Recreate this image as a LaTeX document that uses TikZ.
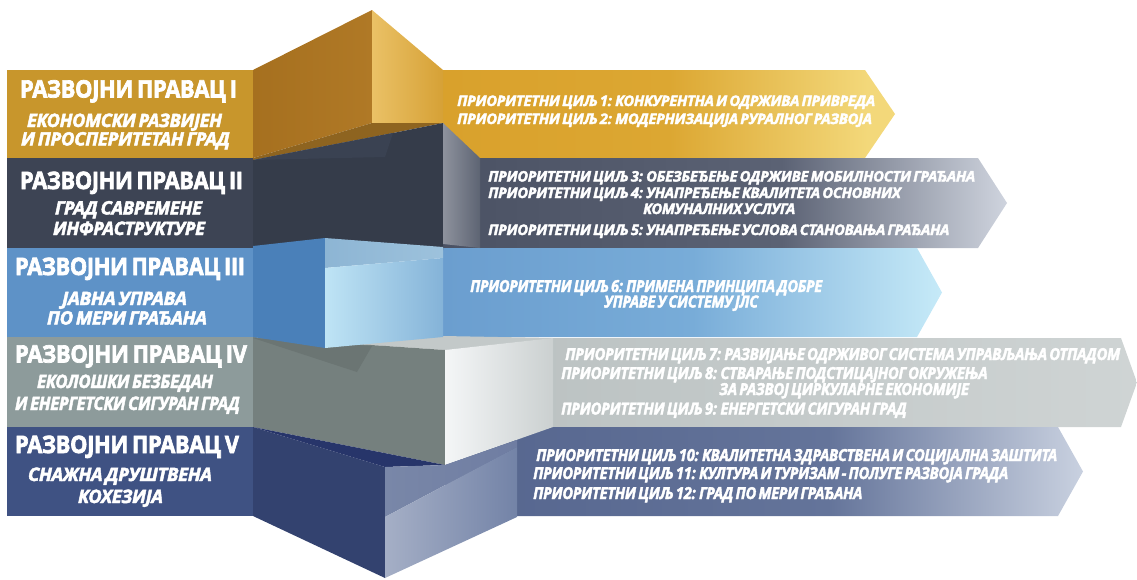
\documentclass[tikz,border=0pt]{standalone}
\usepackage{fontspec}
\setmainfont{Open Sans}
\newfontfamily\heavyfam[FakeBold=3,LetterSpace=-1.5,WordSpace=0.7]{Open Sans}
\newfontfamily\medfam[FakeBold=2.5,LetterSpace=-2,WordSpace=0.6]{Open Sans}
\usepackage{graphicx}
% colours
\definecolor{gLab}{HTML}{C8962C}
\definecolor{gFrontL}{HTML}{A6701F}
\definecolor{gFrontR}{HTML}{B07926}
\definecolor{gSideL}{HTML}{EAC166}
\definecolor{gSideR}{HTML}{D6A136}
\definecolor{gWedge}{HTML}{8E6420}
\definecolor{gAl}{HTML}{D9A12C}
\definecolor{gAm}{HTML}{DCA732}
\definecolor{gAr}{HTML}{F3D87A}
\definecolor{dLab}{HTML}{3D4454}
\definecolor{dFront}{HTML}{353C4A}
\definecolor{dTop}{HTML}{3A4252}
\definecolor{dSideL}{HTML}{8E929D}
\definecolor{dSideR}{HTML}{5D6473}
\definecolor{dAl}{HTML}{4B5264}
\definecolor{dAm}{HTML}{5B6274}
\definecolor{dAr}{HTML}{CFD4DE}
\definecolor{bLab}{HTML}{5E92C7}
\definecolor{bFront}{HTML}{4A80B9}
\definecolor{bTopL}{HTML}{8DB5D4}
\definecolor{bTopR}{HTML}{9DC2DC}
\definecolor{bCyL}{HTML}{BFE4F5}
\definecolor{bCyR}{HTML}{84B3D8}
\definecolor{bAl}{HTML}{6B9ECF}
\definecolor{bAm}{HTML}{78ACD8}
\definecolor{bAr}{HTML}{C6EAF8}
\definecolor{yLab}{HTML}{8D9B9B}
\definecolor{yFront}{HTML}{75807E}
\definecolor{yShadow}{HTML}{6B7573}
\definecolor{yTop}{HTML}{C3C9C9}
\definecolor{yWL}{HTML}{F4F6F7}
\definecolor{yWR}{HTML}{CBD0D0}
\definecolor{yAl}{HTML}{B9C0C0}
\definecolor{yAr}{HTML}{CFD4D4}
\definecolor{nLab}{HTML}{3F5283}
\definecolor{nFront}{HTML}{33426F}
\definecolor{nTop}{HTML}{27356A}
\definecolor{nUL}{HTML}{7987A8}
\definecolor{nUR}{HTML}{6F7DA2}
\definecolor{nLL}{HTML}{A5AFC6}
\definecolor{nLR}{HTML}{7383A7}
\definecolor{nAl}{HTML}{55658E}
\definecolor{nAm}{HTML}{64749A}
\definecolor{nAr}{HTML}{C9D1E0}
\pgfdeclarehorizontalshading{goldarr}{100bp}{color(0bp)=(gAl); color(25bp)=(gAl); color(50bp)=(gAm); color(72bp)=(gAr); color(100bp)=(gAr)}
\pgfdeclarehorizontalshading{darkarr}{100bp}{color(0bp)=(dAl); color(25bp)=(dAl); color(55bp)=(dAm); color(75bp)=(dAr); color(100bp)=(dAr)}
\pgfdeclarehorizontalshading{bluearr}{100bp}{color(0bp)=(bAl); color(25bp)=(bAl); color(50bp)=(bAm); color(75bp)=(bAr); color(100bp)=(bAr)}
\pgfdeclarehorizontalshading{greyarr}{100bp}{color(0bp)=(yAl); color(25bp)=(yAl); color(75bp)=(yAr); color(100bp)=(yAr)}
\pgfdeclarehorizontalshading{navyarr}{100bp}{color(0bp)=(nAl); color(25bp)=(nAl); color(55bp)=(nAm); color(75bp)=(nAr); color(100bp)=(nAr)}
% fonts
\newcommand\ttlfont{\heavyfam\bfseries\fontsize{24}{24}\selectfont}
\newcommand\subfont{\medfam\bfseries\itshape\fontsize{18.5}{18.5}\selectfont}
\newcommand\prA{\medfam\bfseries\itshape\fontsize{14.5}{14.5}\selectfont}
\newcommand\prB{\medfam\bfseries\itshape\fontsize{16.5}{16.5}\selectfont}
\newcommand\fitw[2]{\resizebox{#1pt}{\height}{#2}}
\newlength\calw
\newcommand\calib[3]{\settowidth\calw{#2}\pgfmathsetmacro#1{#3/\calw}}
\AtBeginDocument{%
  \calib{\fG}{\prA ПРИОРИТЕТНИ ЦИЉ 1: КОНКУРЕНТНА И ОДРЖИВА ПРИВРЕДА}{418}%
  \calib{\fD}{\prA ПРИОРИТЕТНИ ЦИЉ 3: ОБЕЗБЕЂЕЊЕ ОДРЖИВЕ МОБИЛНОСТИ ГРАЂАНА}{487}%
  \calib{\fB}{\prB ПРИОРИТЕТНИ ЦИЉ 6: ПРИМЕНА ПРИНЦИПА ДОБРЕ}{352}%
  \calib{\fY}{\prB ПРИОРИТЕТНИ ЦИЉ 7: РАЗВИЈАЊЕ ОДРЖИВОГ СИСТЕМА УПРАВЉАЊА ОТПАДОМ}{555}%
  \calib{\fN}{\prB ПРИОРИТЕТНИ ЦИЉ 10: КВАЛИТЕТНА ЗДРАВСТВЕНА И СОЦИЈАЛНА ЗАШТИТА}{521}%
  \normalfont\normalsize
}
\newcommand\sG[1]{\scalebox{\fG}[1]{\prA #1}}
\newcommand\sD[1]{\scalebox{\fD}[1]{\prA #1}}
\newcommand\sB[1]{\scalebox{\fB}[1]{\prB #1}}
\newcommand\sY[1]{\scalebox{\fY}[1]{\prB #1}}
\newcommand\sN[1]{\scalebox{\fN}[1]{\prB #1}}
\tikzset{
  lbl/.style={text=white, inner sep=0pt, anchor=base},
  prio/.style={text=white, inner sep=0pt, anchor=base west},
}
\begin{document}
\begin{tikzpicture}[x=1pt,y=-1pt]
\useasboundingbox (0,0) rectangle (1137,579);

% ---------- arrows (back) ----------
\shade[shading=goldarr] (443,70) -- (865,70) -- (895,114) -- (865,158) -- (443,158) -- cycle;
\shade[shading=darkarr] (443,158) -- (978,158) -- (1007,203) -- (978,248) -- (443,248) -- cycle;
\shade[shading=bluearr] (443,248) -- (917,248) -- (942,292.5) -- (917,337) -- (443,337) -- cycle;
\shade[shading=greyarr] (445,338) -- (1121,338) -- (1137,382.5) -- (1121,427) -- (445,427) -- cycle;
\shade[shading=navyarr] (445,427) -- (1058,427) -- (1083,471.5) -- (1058,516) -- (445,516) -- cycle;

% ---------- gold block ----------
\shade[left color=gFrontL, right color=gFrontR] (253,70) -- (372,10) -- (372,123) -- (253,158) -- cycle;
\shade[left color=gSideL, right color=gSideR] (372,10) -- (443,70) -- (443,123) -- (372,123) -- cycle;
\fill[gWedge] (253,158) -- (372,123) -- (443,123) -- (393,133) -- (253,160) -- cycle;

% ---------- dark block ----------
\fill[dFront] (253,160) -- (393,133) -- (443,123) -- (443,250) -- (253,250) -- cycle;
\fill[dTop] (253,160) -- (393,133) -- (385,157) -- cycle;
\shade[left color=dSideL, right color=dSideR] (443,123) -- (480,158) -- (480,248) -- (443,244) -- cycle;

% ---------- grey block ----------
\fill[yTop] (253,337) -- (443,336) -- (553,338) -- (445,350) -- cycle;
\fill[yFront] (253,337) -- (445,350) -- (445,465) -- (253,427) -- cycle;
\fill[yShadow] (253,338) -- (372,346) -- (357,372) -- cycle;
\shade[left color=yWL, right color=yWR] (445,350) -- (553,338) -- (553,427) -- (445,465) -- cycle;

% ---------- blue block ----------
\fill[bFront] (253,246) -- (325,238) -- (325,348) -- (253,337) -- cycle;
\shade[left color=bTopL, right color=bTopR] (325,238) -- (443,247) -- (443,258) -- (325,268) -- cycle;
\shade[left color=bCyL, right color=bCyR] (325,268) -- (443,258) -- (443,337) -- (325,348) -- cycle;

% ---------- navy block ----------
\fill[nFront] (253,427) -- (385,467) -- (385,578) -- (253,516) -- cycle;
\fill[nTop] (253,427) -- (445,465) -- (385,467) -- cycle;
\shade[left color=nUL, right color=nUR] (385,467) -- (445,465) -- (517,440) -- (517,447) -- (385,517) -- cycle;
\shade[left color=nLL, right color=nLR] (385,517) -- (517,447) -- (517,517) -- (385,578) -- cycle;

% ---------- label panels ----------
\fill[gLab] (7,70) rectangle (253,158);
\fill[dLab] (7,158) rectangle (253,248);
\fill[bLab] (7,248) rectangle (253,337);
\fill[yLab] (7,337) rectangle (253,427);
\fill[nLab] (7,427) rectangle (253,516);

% ---------- label texts ----------
\node[lbl] (t1)  at (128.5,97.5) {\fitw{217}{\ttlfont РАЗВОЈНИ ПРАВАЦ I}};
\node[lbl] (s1a) at (124.5,127)  {\fitw{195}{\subfont ЕКОНОМСКИ РАЗВИЈЕН}};
\node[lbl] (s1b) at (125.5,145.5){\fitw{209}{\subfont И ПРОСПЕРИТЕТАН ГРАД}};
\node[lbl] (t2)  at (131.5,189)  {\fitw{223}{\ttlfont РАЗВОЈНИ ПРАВАЦ II}};
\node[lbl] (s2a) at (128.5,214.5){\fitw{147}{\subfont ГРАД САВРЕМЕНЕ}};
\node[lbl] (s2b) at (129,235)    {\fitw{152}{\subfont ИНФРАСТРУКТУРЕ}};
\node[lbl] (t3)  at (130,275)    {\fitw{230}{\ttlfont РАЗВОЈНИ ПРАВАЦ III}};
\node[lbl] (s3a) at (124.5,305)  {\fitw{125}{\subfont ЈАВНА УПРАВА}};
\node[lbl] (s3b) at (127,324.5)  {\fitw{160}{\subfont ПО МЕРИ ГРАЂАНА}};
\node[lbl] (t4)  at (131,362.5)  {\fitw{232}{\ttlfont РАЗВОЈНИ ПРАВАЦ IV}};
\node[lbl] (s4a) at (125,388)    {\fitw{176}{\subfont ЕКОЛОШКИ БЕЗБЕДАН}};
\node[lbl] (s4b) at (127.5,410)  {\fitw{225}{\subfont И ЕНЕРГЕТСКИ СИГУРАН ГРАД}};
\node[lbl] (t5)  at (127,453)    {\fitw{224}{\ttlfont РАЗВОЈНИ ПРАВАЦ V}};
\node[lbl] (s5a) at (120,481)    {\fitw{184}{\subfont СНАЖНА ДРУШТВЕНА}};
\node[lbl] (s5b) at (120.5,503)  {\fitw{85}{\subfont КОХЕЗИЈА}};

% ---------- goal texts ----------
\node[prio] (g1)  at (457,106)   {\sG{ПРИОРИТЕТНИ ЦИЉ 1: КОНКУРЕНТНА И ОДРЖИВА ПРИВРЕДА}};
\node[prio] (g2)  at (457,124)   {\sG{ПРИОРИТЕТНИ ЦИЉ 2: МОДЕРНИЗАЦИЈА РУРАЛНОГ РАЗВОЈА}};
\node[prio] (d3)  at (488,181.5) {\sD{ПРИОРИТЕТНИ ЦИЉ 3: ОБЕЗБЕЂЕЊЕ ОДРЖИВЕ МОБИЛНОСТИ ГРАЂАНА}};
\node[prio] (d4)  at (488,198)   {\sD{ПРИОРИТЕТНИ ЦИЉ 4: УНАПРЕЂЕЊЕ КВАЛИТЕТА ОСНОВНИХ}};
\node[prio] (d4b) at (643,214)   {\sD{КОМУНАЛНИХ УСЛУГА}};
\node[prio] (d5)  at (488,235)   {\sD{ПРИОРИТЕТНИ ЦИЉ 5: УНАПРЕЂЕЊЕ УСЛОВА СТАНОВАЊА ГРАЂАНА}};
\node[prio] (b6)  at (470,292)   {\sB{ПРИОРИТЕТНИ ЦИЉ 6: ПРИМЕНА ПРИНЦИПА ДОБРЕ}};
\node[prio] (b6b) at (604,307.5) {\sB{УПРАВЕ У СИСТЕМУ ЈЛС}};
\node[prio] (r7)  at (565,360)   {\sY{ПРИОРИТЕТНИ ЦИЉ 7: РАЗВИЈАЊЕ ОДРЖИВОГ СИСТЕМА УПРАВЉАЊА ОТПАДОМ}};
\node[prio] (r8)  at (561,379)   {\sY{ПРИОРИТЕТНИ ЦИЉ 8: СТВАРАЊЕ ПОДСТИЦАЈНОГ ОКРУЖЕЊА}};
\node[prio] (r8b) at (719,395)   {\sY{ЗА РАЗВОЈ ЦИРКУЛАРНЕ ЕКОНОМИЈЕ}};
\node[prio] (r9)  at (561,414.5) {\sY{ПРИОРИТЕТНИ ЦИЉ 9: ЕНЕРГЕТСКИ СИГУРАН ГРАД}};
\node[prio] (n10) at (536,461)   {\sN{ПРИОРИТЕТНИ ЦИЉ 10: КВАЛИТЕТНА ЗДРАВСТВЕНА И СОЦИЈАЛНА ЗАШТИТА}};
\node[prio] (n11) at (533,479)   {\sN{ПРИОРИТЕТНИ ЦИЉ 11: КУЛТУРА И ТУРИЗАМ - ПОЛУГЕ РАЗВОЈА ГРАДА}};
\node[prio] (n12) at (533,499)   {\sN{ПРИОРИТЕТНИ ЦИЉ 12: ГРАД ПО МЕРИ ГРАЂАНА}};
\end{tikzpicture}
\end{document}
